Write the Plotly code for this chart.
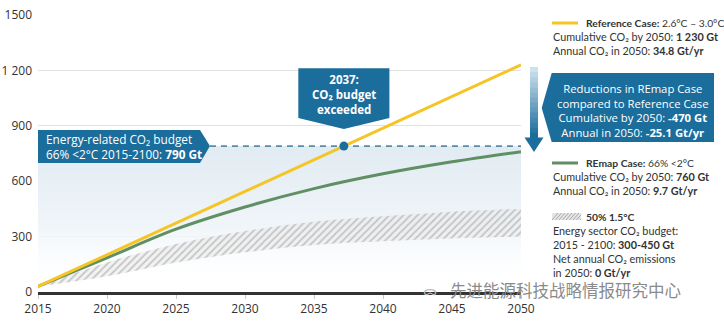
import numpy as np
import plotly.graph_objects as go

# ---------------- data ----------------
years = [2015, 2020, 2025, 2030, 2035, 2040, 2045, 2050]
reference_case = [30, 201, 373, 544, 716, 887, 1059, 1230]
remap_case = [30, 185, 340, 460, 560, 640, 705, 760]
band_upper = [30, 160, 260, 330, 380, 410, 435, 450]
band_lower = [30, 85, 160, 215, 255, 275, 290, 300]
budget = 790
budget_box_end_year = 2027.46
y_ticks = [0, 300, 600, 900, 1200, 1500]
y_tick_text = ["0", "300", "600", "900", "1 200", "1500"]
x_ticks = [2015, 2020, 2025, 2030, 2035, 2040, 2045, 2050]

FONT = "Open Sans"
LFONT = "Lato"
BLUE = "#1b6d9c"
YELLOW = "#f5c425"
GREEN = "#5f8f62"
TXT = "#333333"

# pixel layout helpers
L, R, T, B = 38, 521, 15, 292
def PX(px):
    return (px - L) / (R - L)
def PY(py):
    return (B - py) / (B - T)

exceed_year = float(np.interp(budget, reference_case, years))

fig = go.Figure()

# light blue budget area
fig.add_trace(go.Scatter(
    x=[years[0], years[-1]], y=[budget, budget], mode="lines",
    line=dict(width=0), fill="tozeroy",
    fillgradient=dict(type="vertical",
                      colorscale=[[0, "rgba(255,255,255,0)"], [0.45, "rgba(240,245,249,1)"], [1, "rgba(225,235,242,1)"]]),
    hoverinfo="skip", showlegend=False))

# hatched 1.5C band
fig.add_trace(go.Scatter(x=years, y=band_lower, mode="lines", line=dict(width=0, shape="spline"),
                         hoverinfo="skip", showlegend=False))
fig.add_trace(go.Scatter(x=years, y=band_upper, mode="lines", line=dict(width=0, shape="spline"),
                         fill="tonexty", fillcolor="rgba(0,0,0,0)",
                         fillpattern=dict(shape="/", fgcolor="#9a9a9a", bgcolor="rgba(235,235,235,0.6)",
                                          size=5, solidity=0.35),
                         hoverinfo="skip", showlegend=False))

# dashed budget line
fig.add_trace(go.Scatter(x=[budget_box_end_year, years[-1]], y=[budget, budget], mode="lines",
                         line=dict(color="#5b8aa6", width=1.6, dash="6px,5px"),
                         hoverinfo="skip", showlegend=False))

# REmap case
fig.add_trace(go.Scatter(x=years, y=remap_case, mode="lines", line=dict(color=GREEN, width=3, shape="spline"),
                         hoverinfo="skip", showlegend=False))
# Reference case
fig.add_trace(go.Scatter(x=years, y=reference_case, mode="lines", line=dict(color=YELLOW, width=3),
                         hoverinfo="skip", showlegend=False))
# exceed point
fig.add_trace(go.Scatter(x=[exceed_year], y=[budget], mode="markers",
                         marker=dict(color=BLUE, size=9), hoverinfo="skip", showlegend=False))

shapes = []
annotations = []

# Budget box (data coords)
x0b = years[0]
shapes.append(dict(type="path", xref="x", yref="y", layer="above",
                   path=f"M {x0b},877 L 2026.74,877 L {budget_box_end_year},{budget} L 2026.74,698 L {x0b},698 Z",
                   fillcolor=BLUE, line=dict(width=0)))
annotations.append(dict(x=2015.5, y=787, xref="x", yref="y", xanchor="left", yanchor="middle", showarrow=False,
                        align="left", borderpad=0,
                        text="Energy-related CO₂ budget<br>66% <2°C 2015-2100: <b>790 Gt</b>",
                        font=dict(family=FONT, size=11.8, color="white")))

# 2037 box (data coords)
cx = exceed_year
shapes.append(dict(type="path", xref="x", yref="y", layer="above",
                   path=(f"M {cx-3.3},1211 L {cx+3.3},1211 L {cx+3.3},942 L {cx},883 "
                         f"L {cx-3.3},942 Z"),
                   fillcolor=BLUE, line=dict(width=0)))
annotations.append(dict(x=cx, y=1067, xref="x", yref="y", xanchor="center", yanchor="middle", showarrow=False,
                        align="center", borderpad=0,
                        text="<b>2037:</b><br><b>CO₂ budget</b><br><b>exceeded</b>",
                        font=dict(family=FONT, size=11.5, color="white")))

# Reductions box (paper coords)
shapes.append(dict(type="path", xref="paper", yref="paper", layer="above",
                   path=(f"M {PX(551.7)},{PY(73)} L {PX(714)},{PY(73)} L {PX(714)},{PY(142)} "
                         f"L {PX(551.7)},{PY(142)} L {PX(541.7)},{PY(108)} Z"),
                   fillcolor=BLUE, line=dict(width=0)))
annotations.append(dict(x=PX(633), y=PY(110), xref="paper", yref="paper", xanchor="center", yanchor="middle",
                        showarrow=False, align="center", borderpad=0,
                        text=("Reductions in REmap Case<br>compared to Reference Case<br>"
                              "Cumulative by 2050: <b>-470 Gt</b><br>Annual in 2050: <b>-25.1 Gt/yr</b>"),
                        font=dict(family=FONT, size=11.3, color="white")))

# gradient down arrow
n = 14
top, bot = 67, 138
c0 = np.array([205, 225, 238]); c1 = np.array([27, 109, 156])
for i in range(n):
    y0 = top + (bot - top) * i / n
    y1 = top + (bot - top) * (i + 1) / n + 0.5
    c = c0 + (c1 - c0) * (i / (n - 1))
    shapes.append(dict(type="rect", xref="paper", yref="paper", layer="above",
                       x0=PX(530), x1=PX(538), y0=PY(y1), y1=PY(y0),
                       fillcolor=f"rgb({int(c[0])},{int(c[1])},{int(c[2])})", line=dict(width=0)))
shapes.append(dict(type="path", xref="paper", yref="paper", layer="above",
                   path=f"M {PX(524.5)},{PY(137.5)} L {PX(543.5)},{PY(137.5)} L {PX(534)},{PY(152)} Z",
                   fillcolor=BLUE, line=dict(width=0)))

def head(px, py, text):
    annotations.append(dict(x=PX(px), y=PY(py), xref="paper", yref="paper", xanchor="left", yanchor="middle",
                            showarrow=False, text=text, borderpad=0,
                            font=dict(family=LFONT, size=10.3, color=TXT)))
def block(px, py_top, text):
    annotations.append(dict(x=PX(px), y=PY(py_top), xref="paper", yref="paper", xanchor="left", yanchor="top",
                            showarrow=False, text=text, align="left", borderpad=0,
                            font=dict(family=LFONT, size=10.8, color=TXT)))

# legend: reference
shapes.append(dict(type="line", xref="paper", yref="paper", x0=PX(552), x1=PX(578), y0=PY(23), y1=PY(23),
                   line=dict(color=YELLOW, width=3)))
head(585, 23, "<b>Reference Case:</b> 2.6°C – 3.0°C")
block(552, 29, "Cumulative CO₂ by 2050: <b>1 230 Gt</b><br>Annual CO₂ in 2050: <b>34.8 Gt/yr</b>")

# legend: REmap
shapes.append(dict(type="line", xref="paper", yref="paper", x0=PX(552), x1=PX(578), y0=PY(163), y1=PY(163),
                   line=dict(color=GREEN, width=3)))
head(585, 163, "<b>REmap Case:</b> 66% <2°C")
block(552, 169, "Cumulative CO₂ by 2050: <b>760 Gt</b><br>Annual CO₂ in 2050: <b>9.7 Gt/yr</b>")

# legend: hatch sample
shapes.append(dict(type="rect", xref="paper", yref="paper", x0=PX(552), x1=PX(581), y0=PY(220), y1=PY(213),
                   fillcolor="#e6e6e6", line=dict(width=0)))
for k in range(9):
    xs = 552 + k * 3.5
    xe = min(xs + 6, 581)
    shapes.append(dict(type="line", xref="paper", yref="paper", x0=PX(xs), x1=PX(xe),
                       y0=PY(220), y1=PY(220 - 7 * (xe - xs) / 6),
                       line=dict(color="#a8a8a8", width=1)))
head(585, 216.5, "<b>50% 1.5°C</b>")
block(552, 222.5, ("Energy sector CO₂ budget:<br>2015 - 2100: <b>300-450 Gt</b><br>"
                   "Net annual CO₂ emissions<br>in 2050: <b>0 Gt/yr</b>"))

# watermark
annotations.append(dict(x=PX(449), y=PY(289.5), xref="paper", yref="paper", xanchor="left", yanchor="middle",
                        showarrow=False, text="先进能源科技战略情报研究中心", borderpad=0,
                        font=dict(family="Noto Sans CJK SC", size=16.5, color="#8a8a8a")))
annotations.append(dict(x=PX(430), y=PY(289.5), xref="paper", yref="paper", xanchor="center", yanchor="middle",
                        showarrow=False, text="ᯅ", borderpad=0, font=dict(family=FONT, size=13, color="#bbbbbb")))

fig.update_layout(
    width=724, height=322,
    margin=dict(l=L, r=724 - R, t=T, b=322 - B, autoexpand=False),
    paper_bgcolor="white", plot_bgcolor="white",
    font=dict(family=FONT, color=TXT),
    showlegend=False,
    shapes=shapes, annotations=annotations,
    xaxis=dict(range=[2015, 2050], tickvals=x_ticks, showgrid=False, zeroline=False, automargin=False,
               showline=True, linecolor="#333333", linewidth=3,
               ticks="outside", ticklen=4, tickcolor="#c8c8c8",
               tickfont=dict(family=FONT, size=12, color=TXT)),
    yaxis=dict(range=[0, 1500], tickvals=y_ticks, ticktext=y_tick_text, showgrid=True, automargin=False,
               gridcolor="#e2e2e2", gridwidth=1, zeroline=False, showline=False,
               ticks="", ticklabelstandoff=5, tickfont=dict(family=FONT, size=12, color=TXT)),
)

fig.write_html("out.html")
